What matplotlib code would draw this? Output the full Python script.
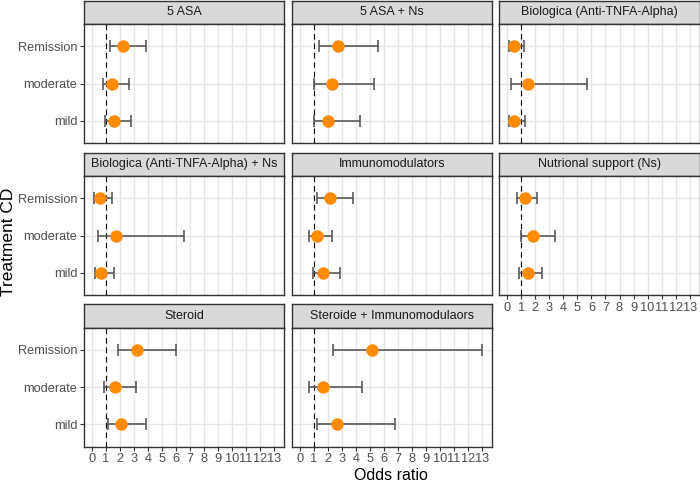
import numpy as np
import matplotlib
matplotlib.use("Agg")
import matplotlib.pyplot as plt

plt.rcParams["font.family"] = ["Liberation Sans", "DejaVu Sans"]

# Data (order within each list: mild, moderate, Remission)
severity = ["mild", "moderate", "Remission"]
treatments = [
    "5 ASA",
    "5 ASA + Ns",
    "Biologica (Anti-TNFA-Alpha)",
    "Biologica (Anti-TNFA-Alpha) + Ns",
    "Immunomodulators",
    "Nutrional support (Ns)",
    "Steroid",
    "Steroide + Immunomodulaors",
]
odds = [
    [1.60, 1.47, 2.20],
    [2.04, 2.30, 2.74],
    [0.50, 1.48, 0.45],
    [0.63, 1.74, 0.57],
    [1.64, 1.26, 2.13],
    [1.45, 1.84, 1.25],
    [2.06, 1.63, 3.23],
    [2.68, 1.64, 5.17],
]
lower = [
    [0.94, 0.80, 1.32],
    [1.03, 1.03, 1.38],
    [0.12, 0.27, 0.12],
    [0.23, 0.43, 0.17],
    [0.97, 0.68, 1.26],
    [0.82, 1.00, 0.72],
    [1.19, 0.89, 1.86],
    [1.23, 0.68, 2.36],
]
upper = [
    [2.83, 2.69, 3.88],
    [4.30, 5.28, 5.61],
    [1.30, 5.70, 1.22],
    [1.60, 6.57, 1.43],
    [2.88, 2.30, 3.78],
    [2.47, 3.41, 2.10],
    [3.85, 3.19, 6.04],
    [6.77, 4.42, 13.00],
]
xticks = list(range(0, 14))

W, H = 700, 483
fig = plt.figure(figsize=(W / 100, H / 100), dpi=100)

col_x = [84, 292, 499.5]
row_top = [0.5, 152.5, 304]
panel_w, strip_h, panel_h = 200, 23.5, 119

border = "#333333"
y = np.arange(1, len(severity) + 1)

for i, name in enumerate(treatments):
    r, c = divmod(i, 3)
    x0 = col_x[c]
    top = row_top[r]

    # strip
    sax = fig.add_axes([x0 / W, 1 - (top + strip_h) / H, panel_w / W, strip_h / H])
    sax.set_facecolor("#D9D9D9")
    sax.set_xticks([])
    sax.set_yticks([])
    for s in sax.spines.values():
        s.set_color(border)
        s.set_linewidth(1.0)
    sax.text(0.5, 0.5, name, ha="center", va="center", fontsize=9,
             color="#1A1A1A", transform=sax.transAxes)

    # panel
    ax = fig.add_axes([x0 / W, 1 - (top + strip_h + panel_h) / H,
                       panel_w / W, panel_h / H])
    ax.set_xlim(-0.55, 13.7)
    ax.set_ylim(0.4, 3.6)
    ax.set_xticks(xticks)
    ax.set_yticks(y)
    ax.grid(True, color="#E6E6E6", lw=1.0, zorder=0)
    ax.set_axisbelow(True)
    for s in ax.spines.values():
        s.set_color(border)
        s.set_linewidth(1.0)

    ax.axvline(1, color="black", lw=0.8, dashes=(5, 3.5), zorder=2)

    o = np.array(odds[i])
    lo = np.array(lower[i])
    hi = np.array(upper[i])
    ax.errorbar(o, y, xerr=[o - lo, hi - o], fmt="none", ecolor="#5A5A5A",
                elinewidth=1.2, capsize=4.5, capthick=1.2, zorder=3)
    ax.plot(o, y, "o", color="#FF8C00", markersize=9, markeredgewidth=0,
            zorder=4)

    ax.tick_params(colors=border, length=2.75, width=0.8, labelsize=9.2,
                   labelcolor="#4D4D4D", pad=2)
    if c == 0:
        ax.set_yticklabels(severity)
    else:
        ax.tick_params(axis="y", left=False, labelleft=False)
    if i in (5, 6, 7):
        ax.set_xticklabels([str(t) for t in xticks])
    else:
        ax.tick_params(axis="x", bottom=False, labelbottom=False)

fig.text(391 / W, 1 - 475 / H, "Odds ratio", ha="center", va="center",
         fontsize=11.5)
fig.text(9 / W, 1 - 242 / H, "Treatment CD", ha="center", va="center",
         rotation=90, fontsize=12.5)

fig.savefig("out.png", dpi=100)
